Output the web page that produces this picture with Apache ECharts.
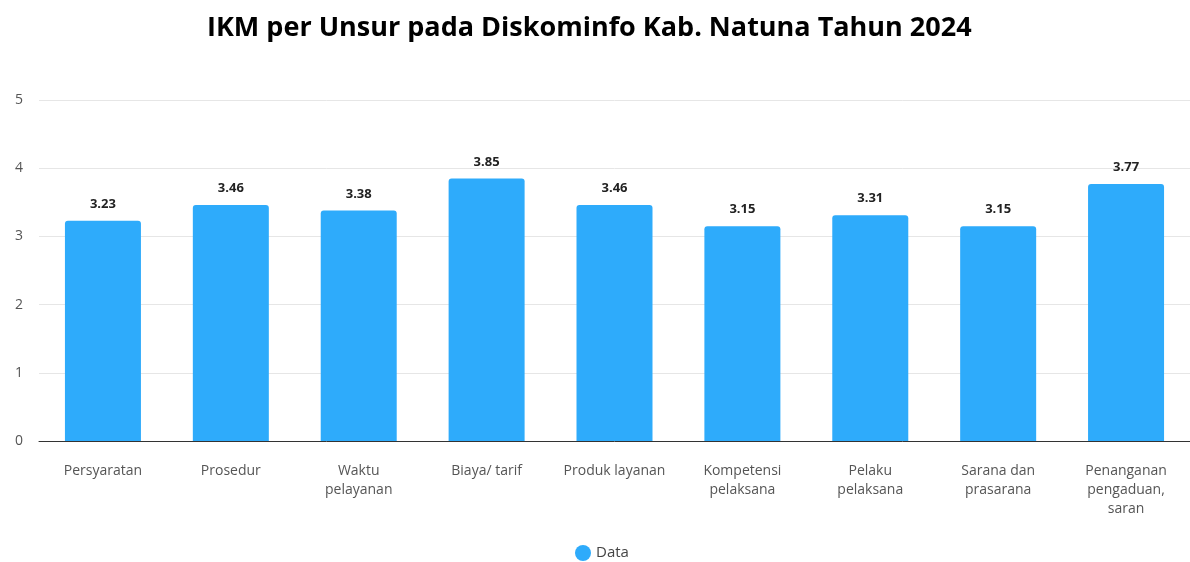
<!DOCTYPE html>
<html>
<head>
<meta charset="utf-8">
<script src="https://cdn.jsdelivr.net/npm/echarts@6/dist/echarts.min.js"></script>
<style>
  html, body { margin: 0; padding: 0; background: #fff; }
  #chartContainer { width: 1190px; height: 562px; }
</style>
</head>
<body>
<div id="chartContainer"></div>
<script>
var categories = [
    'Persyaratan', 'Prosedur', 'Waktu\npelayanan', 'Biaya/ tarif', 'Produk layanan',
    'Kompetensi\npelaksana', 'Pelaku\npelaksana', 'Sarana dan\nprasarana', 'Penanganan\npengaduan,\nsaran'
];
var dataValues = [3.23, 3.46, 3.38, 3.85, 3.46, 3.15, 3.31, 3.15, 3.77];

function Set_IKM_echarts() {
    var dom = document.getElementById('chartContainer');
    var myChart = echarts.init(dom, null, {
        renderer: 'canvas',
        useDirtyRect: false
    });

    var option = {
        animation: false,
        title: {
            text: 'IKM per Unsur pada Diskominfo Kab. Natuna Tahun 2024',
            left: 202,
            top: 10,
            textStyle: {
                color: '#000',
                fontSize: 27,
                fontWeight: 'bold',
                fontFamily: 'Open Sans'
            }
        },
        legend: {
            data: ['Data'],
            top: 545,
            left: 575,
            padding: 0,
            icon: 'circle',
            itemWidth: 16,
            itemHeight: 16,
            textStyle: {
                color: '#444',
                fontSize: 15,
                fontFamily: 'Open Sans'
            }
        },
        grid: {
            left: 39,
            right: 0,
            top: 100,
            bottom: 121
        },
        xAxis: {
            type: 'category',
            data: categories,
            axisTick: { show: false },
            axisLine: { lineStyle: { color: '#333', width: 1 } },
            axisLabel: {
                color: '#555',
                fontSize: 14,
                fontFamily: 'Open Sans',
                lineHeight: 19,
                margin: 21,
                interval: 0
            }
        },
        yAxis: {
            type: 'value',
            min: 0,
            max: 5,
            interval: 1,
            axisLabel: {
                color: '#555',
                fontSize: 14,
                fontFamily: 'Open Sans',
                margin: 24,
                align: 'left'
            },
            splitLine: { lineStyle: { color: '#e6e6e6' } }
        },
        series: [
            {
                name: 'Data',
                type: 'bar',
                data: dataValues,
                barWidth: 76,
                itemStyle: {
                    color: '#2eabfb',
                    borderRadius: [3, 3, 0, 0]
                },
                label: {
                    show: true,
                    position: 'top',
                    distance: 10,
                    color: '#222',
                    fontSize: 13,
                    fontWeight: 'bold',
                    fontFamily: 'Open Sans',
                    formatter: function (p) { return p.value.toFixed(2); }
                }
            }
        ]
    };

    myChart.setOption(option);
    window.addEventListener('resize', myChart.resize);
}

Set_IKM_echarts();
</script>
</body>
</html>
